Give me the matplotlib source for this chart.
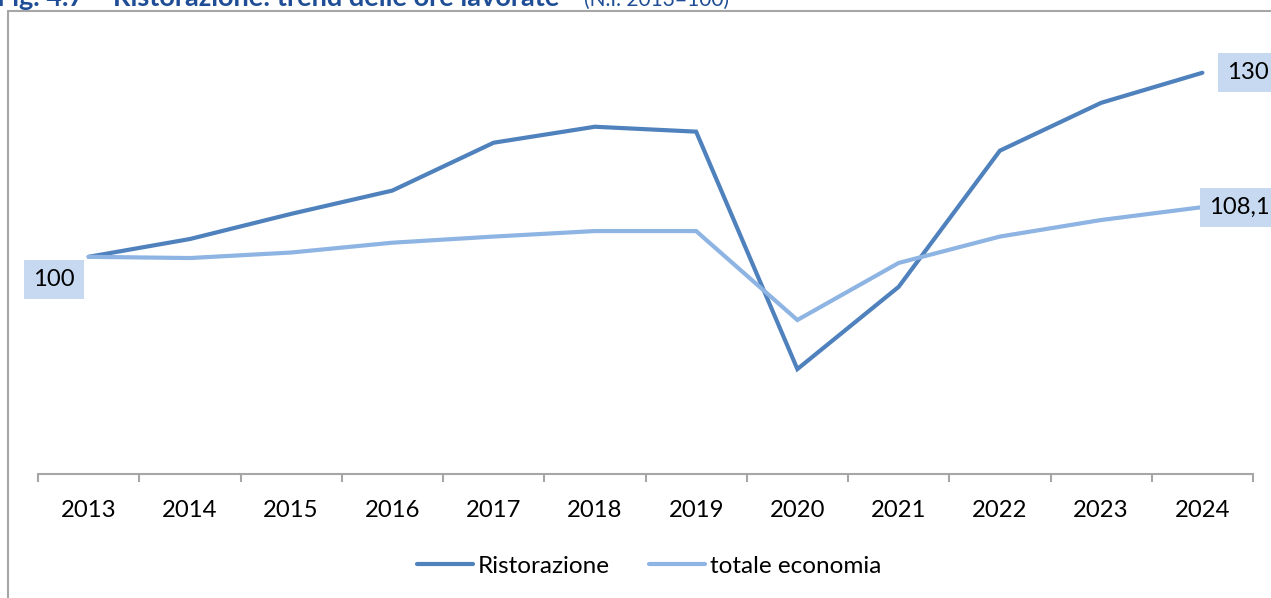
#! /usr/bin/env python

import matplotlib
matplotlib.use('Agg')
import matplotlib.pyplot as plt
import matplotlib.patches as patches

YEARS = ['2013', '2014', '2015', '2016', '2017', '2018',
         '2019', '2020', '2021', '2022', '2023', '2024']
RISTORAZIONE = [100, 102.9, 107.0, 110.8, 118.6, 121.2,
                120.4, 81.7, 95.1, 117.3, 125.1, 130]
TOTALE = [100, 99.8, 100.7, 102.3, 103.3, 104.2,
          104.2, 89.7, 99.0, 103.3, 106.0, 108.1]
SERIES_NAMES = ['Ristorazione', 'totale economia']
LABEL_100 = '100'
LABEL_130 = '130'
LABEL_1081 = '108,1'

TITLE_BOLD = 'Fig. 4.7 \u2013 Ristorazione: trend delle ore lavorate'
TITLE_NOTE = '(N.I. 2013=100)'

W, H = 1271, 598
DARK = '#4F81BD'
LIGHT = '#8DB4E2'
BOXCOL = '#C6D9F1'
GRAY = '#A6A6A6'
FONTSIZE = 17.2

plt.rcParams['font.family'] = ['Lato', 'DejaVu Sans']

fig = plt.figure(figsize=(W / 100, H / 100), dpi=100)

# pixel helpers for placing things in figure coords
def fx(px):
    return px / W

def fy(py):
    return 1 - py / H

# outer frame of the chart, cut by the edges of the picture
frame = patches.Rectangle((fx(8), fy(700)), fx(1400), fy(11) - fy(700),
                          transform=fig.transFigure, fill=False,
                          ec=GRAY, lw=1.5, clip_on=False)
fig.patches.append(frame)

# title, mostly cut off at the top (as in the source page)
fig.text(fx(-3), fy(6), TITLE_BOLD, fontsize=19.5, fontweight='bold',
         color='#1F4E96', va='baseline', ha='left')
fig.text(fx(584), fy(6), TITLE_NOTE, fontsize=15, color='#1F4E96',
         va='baseline', ha='left')

ax = fig.add_axes([fx(38), fy(474), fx(1253) - fx(38), fy(20) - fy(474)])
x = list(range(len(YEARS)))
ax.plot(x, RISTORAZIONE, color=DARK, lw=3, label=SERIES_NAMES[0],
        solid_capstyle='round', solid_joinstyle='miter')
ax.plot(x, TOTALE, color=LIGHT, lw=3, label=SERIES_NAMES[1],
        solid_capstyle='round', solid_joinstyle='miter')

ax.set_xlim(-0.5, len(YEARS) - 0.5)
ax.set_ylim(64.6, 138.6)

for s in ['top', 'right', 'left']:
    ax.spines[s].set_visible(False)
ax.spines['bottom'].set_color(GRAY)
ax.spines['bottom'].set_linewidth(1.5)
ax.set_yticks([])

ax.set_xticks(x)
ax.set_xticklabels(YEARS, fontsize=FONTSIZE)
ax.set_xticks([i - 0.5 for i in range(len(YEARS) + 1)], minor=True)
ax.tick_params(axis='x', which='major', length=0, pad=19)
ax.tick_params(axis='x', which='minor', length=6, width=1.5, color=GRAY,
               direction='out')

# data labels
box = dict(boxstyle='square,pad=0.38', fc=BOXCOL, ec='none')
ax.annotate(LABEL_100, xy=(0, RISTORAZIONE[0]), xytext=(-25, -16.5),
            textcoords='offset points', ha='center', va='center',
            fontsize=FONTSIZE, bbox=box, annotation_clip=False)
ax.annotate(LABEL_130, xy=(11, RISTORAZIONE[-1]), xytext=(18, 0),
            textcoords='offset points', ha='left', va='center',
            fontsize=FONTSIZE, bbox=box, annotation_clip=False)
ax.annotate(LABEL_1081, xy=(11, TOTALE[-1]), xytext=(5, 0),
            textcoords='offset points', ha='left', va='center',
            fontsize=FONTSIZE, bbox=box, annotation_clip=False)

fig.legend(loc='center', bbox_to_anchor=(fx(649), fy(566)), ncol=2,
           frameon=False, fontsize=17.5, handlelength=2.3,
           handletextpad=0.2, columnspacing=1.6)

plt.savefig('out.png', dpi=100)
